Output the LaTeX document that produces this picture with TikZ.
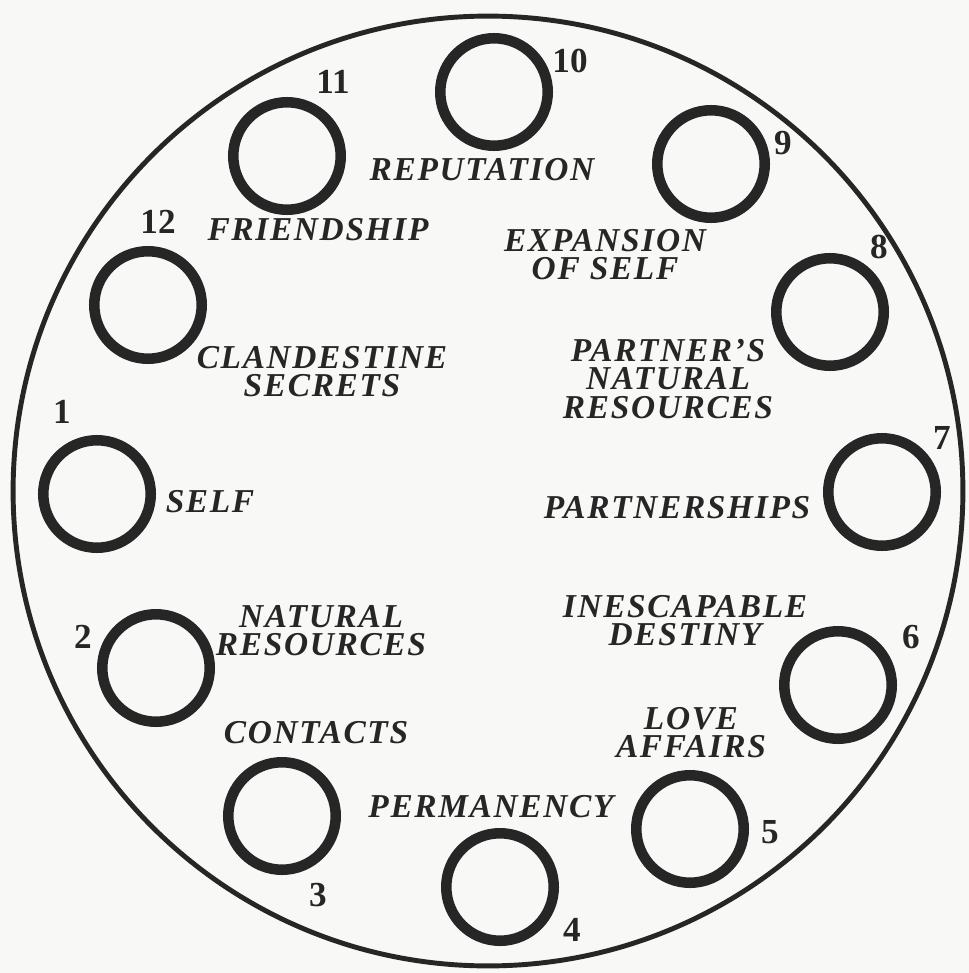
\documentclass[tikz,border=0pt]{standalone}
\usepackage{fontspec}
\setmainfont{Liberation Serif}
\definecolor{ink}{RGB}{38,38,38}
\definecolor{paper}{RGB}{248,248,246}

\begin{document}
\begin{tikzpicture}[
		x=0.02cm, y=-0.02cm,
		every node/.style={text=ink},
		wheel/.style={draw=ink, circle, line width=2.8pt, minimum size=19cm, inner sep=0pt},
		house/.style={draw=ink, circle, line width=6pt, minimum size=2.15cm, inner sep=0pt},
		sign/.style={font=\fontsize{19}{16}\selectfont\bfseries\itshape\addfontfeature{LetterSpace=5}, align=center, inner sep=0pt},
		num/.style={font=\fontsize{20}{20}\selectfont\bfseries, inner sep=0pt}
		]
		
		% Page
		\fill[paper] (0,0) rectangle (969,973);
		\useasboundingbox (0,0) rectangle (969,973);
		
		% Outer circle
		\node[wheel] (wheel) at (488,491) {};
		
		% Houses
		\node[house] (h1) at (97,494) {};
		\node[house] (h2) at (156,668) {};
		\node[house] (h3) at (282,816) {};
		\node[house] (h4) at (500,887) {};
		\node[house] (h5) at (690,829) {};
		\node[house] (h6) at (838,685) {};
		\node[house] (h7) at (882,492) {};
		\node[house] (h8) at (830,312) {};
		\node[house] (h9) at (711,164) {};
		\node[house] (h10) at (494,92) {};
		\node[house] (h11) at (287,156) {};
		\node[house] (h12) at (148,305) {};
		
		% Numbers
		\node[num] (n1) at (62,412) {1};
		\node[num] (n2) at (83,637) {2};
		\node[num] (n3) at (318,895) {3};
		\node[num] (n4) at (572,930) {4};
		\node[num] (n5) at (770,832) {5};
		\node[num] (n6) at (911,637) {6};
		\node[num] (n7) at (942,438) {7};
		\node[num] (n8) at (879,247) {8};
		\node[num] (n9) at (783,143) {9};
		\node[num] (n10) at (570,61) {10};
		\node[num] (n11) at (333,82) {11};
		\node[num] (n12) at (158,222) {12};
		
		% Meanings
		\node[sign] (self) at (210,502) {SELF};
		\node[sign] (resources) at (321,631) {NATURAL\\RESOURCES};
		\node[sign] (contacts) at (316,733) {CONTACTS};
		\node[sign] (permanency) at (491,807) {PERMANENCY};
		\node[sign] (love) at (691,733) {LOVE\\AFFAIRS};
		\node[sign] (destiny) at (685,621) {INESCAPABLE\\DESTINY};
		\node[sign] (partnerships) at (677,508) {PARTNERSHIPS};
		\node[sign] (partner) at (668,379) {PARTNER'S\\NATURAL\\RESOURCES};
		\node[sign] (expansion) at (605,255) {EXPANSION\\OF SELF};
		\node[sign] (reputation) at (482,170) {REPUTATION};
		\node[sign] (friendship) at (318,230) {FRIENDSHIP};
		\node[sign] (secrets) at (322,372) {CLANDESTINE\\SECRETS};
		
	\end{tikzpicture}
\end{document}
